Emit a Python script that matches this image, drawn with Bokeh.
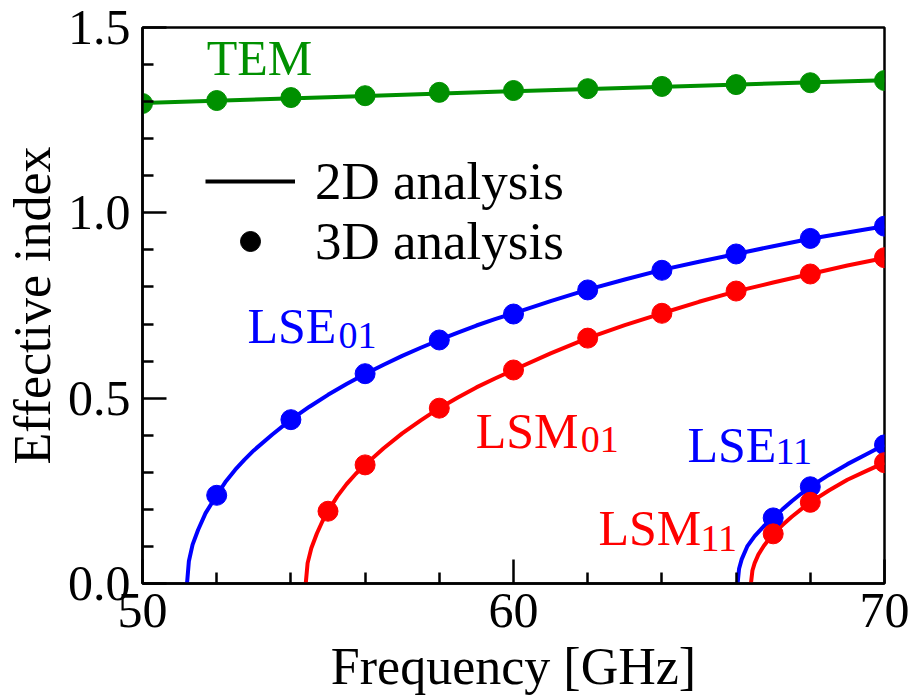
from bokeh.plotting import figure
from bokeh.models import FixedTicker, Legend, LegendItem, Range1d
from bokeh.core.properties import value
from bokeh.embed import file_html
from bokeh.resources import INLINE

FONT = "Liberation Serif"
GREEN = "#009000"
BLUE = "#0000ff"
RED = "#ff0000"
NAN = float("nan")

# ---- 2D analysis (solid lines) ----
tem_line_f = [50, 55, 60, 65, 70]
tem_line_n = [1.296, 1.312, 1.328, 1.343, 1.358]

lse01_line_f = [51.2, 51.25, 51.35, 51.5, 51.7, 52.0, 52.25, 52.5, 52.75, 53.0, 53.5, 54.0,
                54.5, 55.0, 55.5, 56.0, 56.5, 57.0, 57.5, 58.0, 58.5, 59.0, 59.5, 60.0,
                61.0, 62.0, 63.0, 64.0, 65.0, 66.0, 67.0, 68.0, 69.0, 70.0]
lse01_line_n = [0.0, 0.06, 0.105, 0.145, 0.19, 0.238, 0.276, 0.307, 0.334, 0.359, 0.402, 0.442,
                0.477, 0.509, 0.538, 0.565, 0.59, 0.614, 0.636, 0.657, 0.677, 0.696, 0.713, 0.729,
                0.762, 0.793, 0.82, 0.846, 0.868, 0.889, 0.91, 0.93, 0.947, 0.964]

lsm01_line_f = [54.4, 54.45, 54.55, 54.7, 54.85, 55.0, 55.25, 55.5, 55.75, 56.0, 56.5, 57.0,
                57.5, 58.0, 58.5, 59.0, 59.5, 60.0, 61.0, 62.0, 63.0, 64.0, 65.0, 66.0,
                67.0, 68.0, 69.0, 70.0]
lsm01_line_n = [0.0, 0.055, 0.095, 0.135, 0.168, 0.195, 0.235, 0.268, 0.296, 0.32, 0.365, 0.405,
                0.44, 0.473, 0.502, 0.529, 0.553, 0.576, 0.621, 0.662, 0.697, 0.729, 0.76, 0.788,
                0.812, 0.835, 0.858, 0.878]

lse11_line_f = [66.04, 66.08, 66.15, 66.3, 66.5, 66.75, 67.0, 67.25, 67.5, 67.75, 68.0,
                68.5, 69.0, 69.5, 70.0]
lse11_line_n = [0.0, 0.04, 0.065, 0.1, 0.128, 0.155, 0.177, 0.2, 0.222, 0.242, 0.261,
                0.293, 0.322, 0.348, 0.374]

lsm11_line_f = [66.4, 66.44, 66.5, 66.6, 66.75, 67.0, 67.25, 67.5, 67.75, 68.0, 68.5,
                69.0, 69.5, 70.0]
lsm11_line_n = [0.0, 0.035, 0.055, 0.078, 0.102, 0.134, 0.158, 0.18, 0.2, 0.219, 0.251,
                0.28, 0.303, 0.326]

# ---- 3D analysis (dots) ----
tem_dot_f = [50, 52, 54, 56, 58, 60, 62, 64, 66, 68, 70]
tem_dot_n = [1.295, 1.303, 1.311, 1.316, 1.325, 1.330, 1.335, 1.341, 1.346, 1.351, 1.357]

lse01_dot_f = [52, 54, 56, 58, 60, 62, 64, 66, 68, 70]
lse01_dot_n = [0.238, 0.442, 0.566, 0.657, 0.727, 0.792, 0.845, 0.889, 0.931, 0.964]

lsm01_dot_f = [55, 56, 58, 60, 62, 64, 66, 68, 70]
lsm01_dot_n = [0.195, 0.320, 0.473, 0.576, 0.662, 0.729, 0.789, 0.835, 0.879]

lse11_dot_f = [67, 68, 70]
lse11_dot_n = [0.177, 0.261, 0.374]

lsm11_dot_f = [67, 68, 70]
lsm11_dot_n = [0.134, 0.219, 0.326]

# ---- mode labels ----
label_main = ["TEM", "LSE", "LSM", "LSE", "LSM"]
label_sub = ["", "01", "01", "11", "11"]
label_x = [51.73, 52.83, 58.98, 64.69, 62.29]
label_y = [1.368, 0.647, 0.364, 0.326, 0.1025]
label_colors = [GREEN, BLUE, RED, BLUE, RED]
main_dy = [-18, -18, -18, -18, -18]
sub_dx = [0, 91, 105, 88, 102]
sub_dy = [0, -8, -9, -11, -7]

x_major = [50, 60, 70]
x_minor = [52, 54, 56, 58, 62, 64, 66, 68]
y_major = [0.0, 0.5, 1.0, 1.5]
y_minor = [0.1, 0.2, 0.3, 0.4, 0.6, 0.7, 0.8, 0.9, 1.1, 1.2, 1.3, 1.4]
y_labels = {0.0: "0.0", 0.5: "0.5", 1.0: "1.0", 1.5: "1.5"}

p = figure(frame_width=742, frame_height=556, output_backend="svg", toolbar_location=None,
           x_range=Range1d(50, 70), y_range=Range1d(0, 1.5),
           min_border_left=142, min_border_right=26, min_border_top=27, min_border_bottom=108)

p.xgrid.visible = False
p.ygrid.visible = False
p.outline_line_color = "black"
p.outline_line_width = 2.5
p.background_fill_color = "white"
p.border_fill_color = "white"

for ax in (p.xaxis[0], p.yaxis[0]):
    ax.major_tick_in = 24
    ax.major_tick_out = 0
    ax.minor_tick_in = 11
    ax.minor_tick_out = 0
    ax.major_tick_line_width = 2.5
    ax.minor_tick_line_width = 2.5
    ax.axis_line_width = 2.5
    ax.major_tick_line_color = "black"
    ax.minor_tick_line_color = "black"
    ax.axis_line_color = "black"
    ax.major_label_text_font = FONT
    ax.major_label_text_font_size = "50px"
    ax.major_label_text_color = "black"
    ax.axis_label_text_font = FONT
    ax.axis_label_text_font_size = "52px"
    ax.axis_label_text_font_style = "normal"
    ax.axis_label_text_color = "black"

p.xaxis[0].ticker = FixedTicker(ticks=x_major, minor_ticks=x_minor)
p.yaxis[0].ticker = FixedTicker(ticks=y_major, minor_ticks=y_minor)
p.yaxis[0].major_label_overrides = y_labels
p.xaxis[0].axis_label = "Frequency [GHz]"
p.yaxis[0].axis_label = "Effective index"
p.xaxis[0].major_label_standoff = 10
p.xaxis[0].axis_label_standoff = 8
p.yaxis[0].major_label_standoff = 12
p.yaxis[0].axis_label_standoff = 4

LW = 4
DOT = 20
p.line(tem_line_f, tem_line_n, color=GREEN, line_width=LW)
p.line(lse01_line_f, lse01_line_n, color=BLUE, line_width=LW)
p.line(lsm01_line_f, lsm01_line_n, color=RED, line_width=LW)
p.line(lse11_line_f, lse11_line_n, color=BLUE, line_width=LW)
p.line(lsm11_line_f, lsm11_line_n, color=RED, line_width=LW)

p.scatter(tem_dot_f, tem_dot_n, size=DOT, color=GREEN)
p.scatter(lse01_dot_f, lse01_dot_n, size=DOT, color=BLUE)
p.scatter(lsm01_dot_f, lsm01_dot_n, size=DOT, color=RED)
p.scatter(lse11_dot_f, lse11_dot_n, size=DOT, color=BLUE)
p.scatter(lsm11_dot_f, lsm11_dot_n, size=DOT, color=RED)

p.text(x=label_x, y=label_y, text=label_main, text_color=label_colors,
       y_offset=main_dy,
       text_font=value(FONT), text_font_size="50px",
       text_align="left", text_baseline="alphabetic")
p.text(x=label_x, y=label_y, text=label_sub, text_color=label_colors,
       x_offset=sub_dx, y_offset=sub_dy,
       text_font=value(FONT), text_font_size="38px",
       text_align="left", text_baseline="alphabetic")

# legend proxies (NaN data: nothing drawn in the plot, only in the legend)
leg_line = p.line([NAN], [NAN], color="black", line_width=LW)
leg_dot = p.scatter([NAN], [NAN], size=DOT, color="black")
legend = Legend(items=[LegendItem(label="2D analysis", renderers=[leg_line]),
                       LegendItem(label="3D analysis", renderers=[leg_dot])],
                location=(63, 312), glyph_width=90, glyph_height=50,
                label_standoff=20, padding=0, spacing=-4, margin=0,
                border_line_color=None, background_fill_alpha=0,
                label_text_font=FONT, label_text_font_size="53px",
                label_text_color="black")
p.add_layout(legend, "center")

open("out.html", "w").write(file_html(p, INLINE))
